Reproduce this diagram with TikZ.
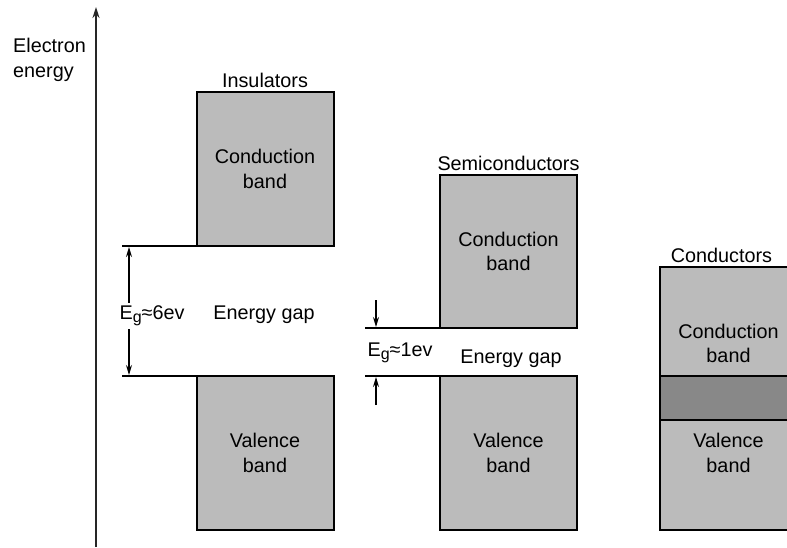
\documentclass[tikz,border=0pt]{standalone}
\usepackage{fontspec}
\setmainfont{Liberation Sans}
\usetikzlibrary{positioning,arrows.meta}
\definecolor{bandgray}{HTML}{BBBBBB}
\definecolor{overlapgray}{HTML}{888888}
\newcommand{\gsub}{\raisebox{-3pt}{\fontsize{16}{16}\selectfont g}}

\begin{document}
\begin{tikzpicture}[
  x=1pt, y=-1pt,
  font=\fontsize{19.8}{24.5}\selectfont,
  node distance=3pt,
  band/.style={draw=black, fill=bandgray, line width=2pt, outer sep=0pt,
               minimum width=137pt, minimum height=154pt,
               inner sep=0pt, align=center},
  overlap/.style={band, fill=overlapgray, minimum height=44pt},
  level/.style={line width=2pt},
  txt/.style={inner sep=1pt, align=center},
  gaplbl/.style={txt, fill=white, inner sep=3pt},
  dimarr/.style={line width=1.2pt, -{Stealth[length=10pt,width=6pt]}},
  axisarr/.style={line width=1.8pt, draw=black!85,
                  -{Stealth[length=11pt,width=7pt]}}
]
  \useasboundingbox (0,0) rectangle (787,547);

  % Energy axis
  \coordinate (ax0) at (96,547);
  \coordinate (ax1) at (96,7);
  \draw[axisarr] (ax0) -- (ax1);
  \node[txt, align=left, anchor=north west] (elabel) at (12,37) {Electron\\energy};

  % Insulators
  \node[band] (ins-cb) at (265,169) {Conduction\\band};
  \node[band] (ins-vb) at (265,453) {Valence\\band};
  \node[txt, above=of ins-cb] (ins-title) {Insulators};

  \coordinate (ins-top) at (122,246);
  \coordinate (ins-bot) at (122,376);
  \draw[level] (ins-top) -- (ins-cb.south west);
  \draw[level] (ins-bot) -- (ins-vb.north west);

  \coordinate (ins-a) at (129,316);
  \coordinate (ins-up) at (129,247);
  \coordinate (ins-dn) at (129,375);
  \draw[dimarr] (ins-a) -- (ins-up);
  \draw[dimarr] (ins-a) -- (ins-dn);
  \node[gaplbl] (ins-eg) at (152,316) {E\gsub≈6ev};
  \node[txt] (ins-gap) at (264,315) {Energy gap};

  % Semiconductors
  \node[band, minimum height=153pt] (semi-cb) at (508.5,251.5) {Conduction\\band};
  \node[band] (semi-vb) at (508.5,453) {Valence\\band};
  \node[txt, above=of semi-cb] (semi-title) {Semiconductors};

  \coordinate (semi-top) at (365,328);
  \coordinate (semi-bot) at (365,376);
  \draw[level] (semi-top) -- (semi-cb.south west);
  \draw[level] (semi-bot) -- (semi-vb.north west);

  \coordinate (semi-a) at (376,300);
  \coordinate (semi-at) at (376,327);
  \coordinate (semi-b) at (376,405);
  \coordinate (semi-bt) at (376,377);
  \draw[dimarr] (semi-a) -- (semi-at);
  \draw[dimarr] (semi-b) -- (semi-bt);
  \node[txt] (semi-eg) at (400,353) {E\gsub≈1ev};
  \node[txt] (semi-gap) at (511,359) {Energy gap};

  % Conductors (bands overlap)
  \node[band, minimum height=153pt] (cond-cb) at (728.5,343.5) {Conduction\\band};
  \node[band] (cond-vb) at (728.5,453) {Valence\\band};
  \node[overlap] (cond-ov) at (728.5,398) {};
  \node[txt, above=of cond-cb, xshift=-7pt] (cond-title) {Conductors};
\end{tikzpicture}
\end{document}
